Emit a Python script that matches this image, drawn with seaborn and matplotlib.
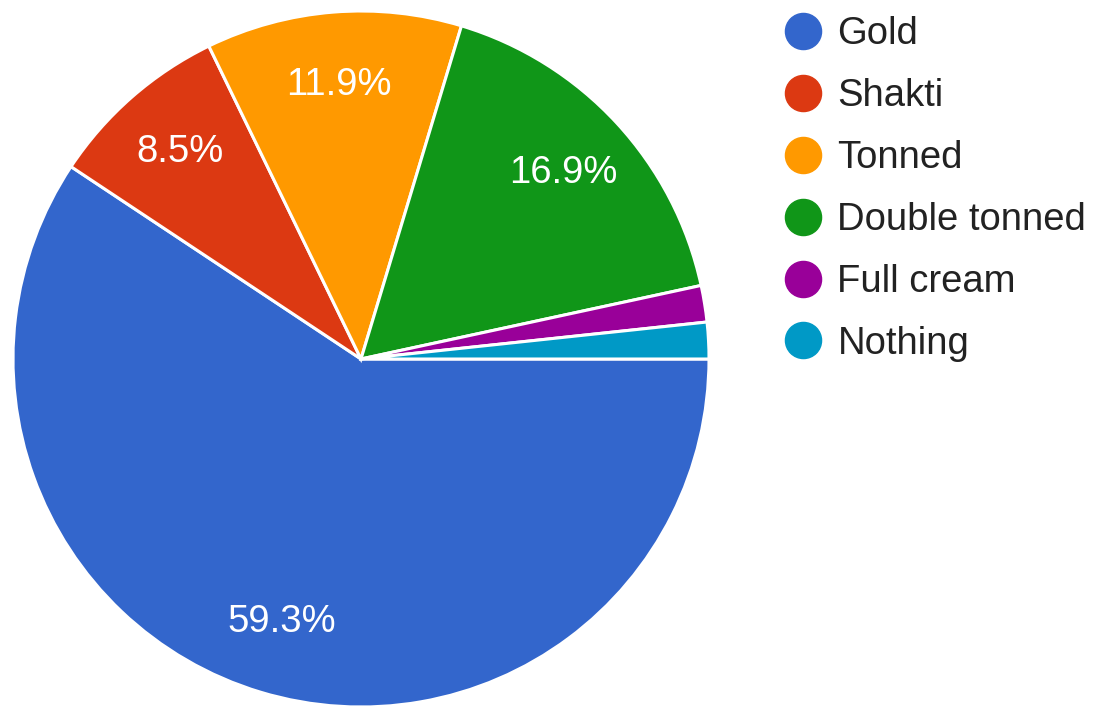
import matplotlib
matplotlib.use("Agg")
import matplotlib.pyplot as plt
from matplotlib.lines import Line2D
import seaborn as sns

# Survey responses: which milk variant is bought
categories = ["Gold", "Shakti", "Tonned", "Double tonned", "Full cream", "Nothing"]
counts = [35, 5, 7, 10, 1, 1]
colors = ["#3366cc", "#dc3912", "#ff9900", "#109618", "#990099", "#0099c6"]

sns.set_theme(style="white")
plt.rcParams["font.family"] = ["Liberation Sans", "DejaVu Sans"]

fig = plt.figure(figsize=(11.05, 7.06), dpi=100)
W, H = 1105, 706
cx, cy, r = 361, 359, 348
ax = fig.add_axes([(cx - r) / W, (H - cy - r) / H, 2 * r / W, 2 * r / H])

palette = sns.color_palette(colors)


def pct_label(p):
    return f"{p:.1f}%" if p >= 5 else ""


wedges, texts, autotexts = ax.pie(
    counts,
    colors=palette,
    startangle=0,
    counterclock=False,
    radius=1.0,
    autopct=pct_label,
    pctdistance=0.79,
    wedgeprops=dict(edgecolor="white", linewidth=2.2),
    textprops=dict(color="white", fontsize=27.5),
)
ax.set_xlim(-1.0, 1.0)
ax.set_ylim(-1.0, 1.0)
ax.set_aspect("equal")
ax.axis("off")

handles = [
    Line2D([0], [0], marker="o", linestyle="none", markersize=26,
           markerfacecolor=c, markeredgecolor=c)
    for c in palette
]
fig.legend(
    handles, categories,
    loc="upper left",
    bbox_to_anchor=(784 / W, 1 - 16 / H),
    frameon=False,
    fontsize=27.5,
    labelcolor="#222222",
    handlelength=1.0,
    handletextpad=0.4,
    labelspacing=0.68,
    borderaxespad=0,
    borderpad=0,
)

fig.savefig("out.png", dpi=100, facecolor="white")
